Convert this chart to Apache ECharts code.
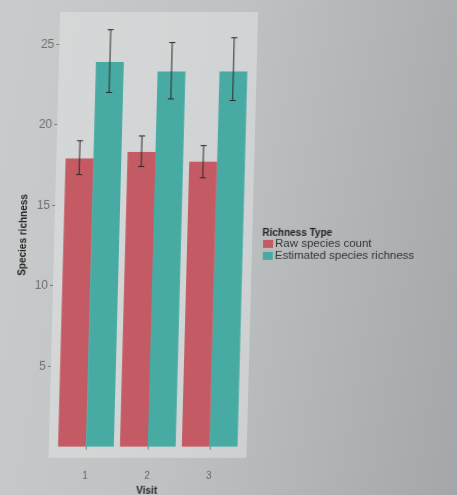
<!DOCTYPE html>
<html>
<head>
<meta charset="utf-8">
<script src="https://cdn.jsdelivr.net/npm/echarts@6/dist/echarts.min.js"></script>
<style>
  html, body { margin: 0; padding: 0; }
  body {
    width: 457px; height: 495px; overflow: hidden;
    background: linear-gradient(100deg, #c9cccc 0%, #bfc2c3 45%, #a4a7a9 100%);
  }
  #chart { width: 457px; height: 495px; transform: skewX(-1.5deg); }
</style>
</head>
<body>
<div id="chart"></div>
<script>
// 数据
const visits = [1, 2, 3];
const rawCount = [17.9, 18.3, 17.7];
const rawLow = [16.9, 17.4, 16.7];
const rawHigh = [19.0, 19.3, 18.7];
const estRichness = [23.9, 23.3, 23.3];
const estLow = [22.0, 21.6, 21.5];
const estHigh = [25.9, 25.1, 25.4];
const yTicks = [5, 10, 15, 20, 25];

const typeNames = ['Raw species count', 'Estimated species richness'];
const typeColors = ['#c45a64', '#47aba3'];

const barHalf = 0.225;  // 每根柱子半宽（数据单位）
const capHalf = 0.05;

const chart = echarts.init(document.getElementById('chart'));

// 柱子
function barRender(offset, color) {
    return function (params, api) {
        const x = api.value(0) + offset;
        const p0 = api.coord([x - barHalf, 0]);
        const p1 = api.coord([x + barHalf, api.value(1)]);
        return {
            type: 'rect',
            shape: { x: p0[0], y: p1[1], width: p1[0] - p0[0], height: p0[1] - p1[1] },
            style: { fill: color }
        };
    };
}

// 误差线
function errRender(offset) {
    return function (params, api) {
        const x = api.value(0) + offset;
        const lo = api.coord([x, api.value(1)]);
        const hi = api.coord([x, api.value(2)]);
        const capL = api.coord([x - capHalf, 0])[0];
        const capR = api.coord([x + capHalf, 0])[0];
        const style = { stroke: '#2a2a2a', lineWidth: 1 };
        return {
            type: 'group',
            children: [
                { type: 'line', shape: { x1: lo[0], y1: lo[1], x2: hi[0], y2: hi[1] }, style },
                { type: 'line', shape: { x1: capL, y1: hi[1], x2: capR, y2: hi[1] }, style },
                { type: 'line', shape: { x1: capL, y1: lo[1], x2: capR, y2: lo[1] }, style }
            ]
        };
    };
}

const option = {
    animation: false,
    title: {
        text: 'Richness Type',
        left: 262, top: 228,
        padding: 0,
        textStyle: { fontFamily: 'Liberation Sans', fontSize: 10, fontWeight: 'bold', color: '#222' }
    },
    legend: {
        data: typeNames,
        orient: 'vertical',
        left: 263, top: 238,
        padding: 0,
        itemGap: 0,
        itemWidth: 10, itemHeight: 8,
        icon: 'rect',
        textStyle: { fontFamily: 'Liberation Sans', fontSize: 11.5, lineHeight: 8, color: '#333', padding: [0, 0, 0, -3] }
    },
    grid: {
        left: 54, right: 205, top: 12, bottom: 37,
        outerBoundsMode: 'none',
        show: true,
        backgroundColor: 'rgba(230,232,232,0.45)',
        borderWidth: 0
    },
    xAxis: {
        type: 'value',
        min: 0.4, max: 3.6,
        name: 'Visit',
        nameLocation: 'middle',
        nameGap: 26,
        nameTextStyle: { fontFamily: 'Liberation Sans', fontSize: 10, fontWeight: 'bold', color: '#222' },
        axisLine: { show: false },
        splitLine: { show: false },
        axisTick: { show: true, customValues: visits, length: 3, lineStyle: { color: '#777' } },
        axisLabel: {
            customValues: visits, margin: 13,
            fontFamily: 'Liberation Sans', fontSize: 10, color: '#666'
        }
    },
    yAxis: {
        type: 'value',
        min: -0.7, max: 27,
        name: 'Species richness',
        nameLocation: 'middle',
        nameGap: 26,
        nameTextStyle: { fontFamily: 'Liberation Sans', fontSize: 10, fontWeight: 'bold', color: '#222' },
        axisLine: { show: false },
        splitLine: { show: false },
        axisTick: { show: true, customValues: yTicks, length: 3, lineStyle: { color: '#777' } },
        axisLabel: {
            customValues: yTicks, margin: 5,
            fontFamily: 'Liberation Sans', fontSize: 12, color: '#6e6e6e'
        }
    },
    series: [
        {
            name: typeNames[0], type: 'custom',
            itemStyle: { color: typeColors[0] },
            renderItem: barRender(-barHalf, typeColors[0]),
            data: visits.map((v, i) => [v, rawCount[i]])
        },
        {
            name: typeNames[1], type: 'custom',
            itemStyle: { color: typeColors[1] },
            renderItem: barRender(barHalf, typeColors[1]),
            data: visits.map((v, i) => [v, estRichness[i]])
        },
        {
            type: 'custom', z: 5,
            renderItem: errRender(-barHalf),
            data: visits.map((v, i) => [v, rawLow[i], rawHigh[i]])
        },
        {
            type: 'custom', z: 5,
            renderItem: errRender(barHalf),
            data: visits.map((v, i) => [v, estLow[i], estHigh[i]])
        }
    ]
};

chart.setOption(option);
</script>
</body>
</html>
